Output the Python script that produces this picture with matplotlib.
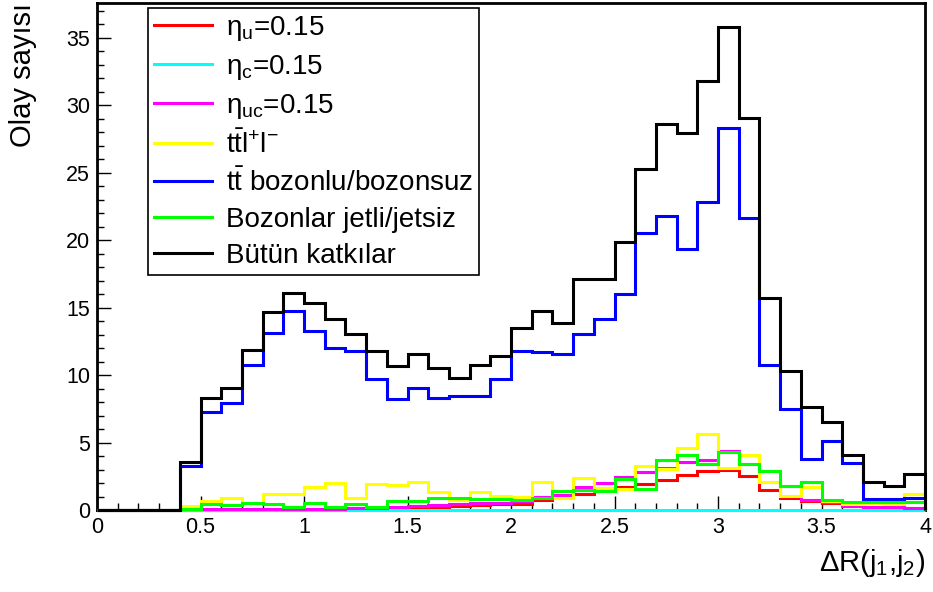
import numpy as np
import matplotlib.pyplot as plt
from matplotlib.lines import Line2D
from matplotlib.ticker import MultipleLocator, FormatStrFormatter

plt.rcParams['font.family'] = ['Liberation Sans', 'DejaVu Sans']
plt.rcParams['mathtext.default'] = 'regular'

#%%----- histogram contents, 40 bins of 0.1 between 0 and 4 ------------------
kenarlar = np.round(np.linspace(0.0, 4.0, 41), 2)
bos = [0.0, 0.0, 0.0, 0.0]   # 0.0-0.4 is empty for every sample

eta_u = bos + [0.03, 0.03, 0.05, 0.05, 0.05, 0.05, 0.08, 0.08, 0.10, 0.10,
               0.15, 0.20, 0.25, 0.30, 0.38, 0.48, 0.45, 0.72, 0.95, 1.15,
               1.55, 1.72, 1.95, 2.25, 2.60, 2.88, 2.95, 2.55, 1.45, 0.90,
               0.65, 0.50, 0.30, 0.22, 0.20, 0.15]
eta_c = bos + [0.02, 0.02, 0.02, 0.02, 0.02, 0.02, 0.02, 0.02, 0.02, 0.02,
               0.02, 0.02, 0.02, 0.02, 0.02, 0.02, 0.03, 0.03, 0.03, 0.03,
               0.03, 0.03, 0.03, 0.03, 0.03, 0.03, 0.03, 0.03, 0.03, 0.03,
               0.03, 0.03, 0.03, 0.03, 0.03, 0.03]
eta_uc = bos + [0.05, 0.05, 0.05, 0.05, 0.05, 0.05, 0.05, 0.05, 0.13, 0.13,
                0.20, 0.28, 0.36, 0.43, 0.50, 0.53, 0.70, 1.00, 1.10, 1.70,
                2.00, 2.43, 2.80, 3.12, 3.54, 3.71, 4.40, 3.40, 2.06, 1.07,
                0.77, 0.60, 0.30, 0.22, 0.22, 0.15]
ttll = bos + [0.26, 0.70, 0.87, 0.53, 1.20, 1.20, 1.74, 2.00, 0.90, 1.94,
              1.82, 2.06, 1.37, 0.75, 1.37, 1.05, 1.00, 2.05, 0.86, 2.40,
              1.65, 1.55, 3.24, 3.05, 4.60, 5.60, 3.08, 4.08, 2.05, 1.07,
              1.69, 0.70, 0.48, 0.50, 0.45, 1.20]
tt = bos + [3.28, 7.27, 7.94, 10.77, 13.12, 14.74, 13.26, 12.00, 11.76, 9.74,
            8.26, 9.05, 8.33, 8.43, 8.48, 9.74, 11.80, 11.75, 11.59, 13.07,
            14.18, 16.03, 20.51, 21.82, 19.35, 22.80, 28.35, 21.65, 10.72, 7.47,
            3.77, 5.10, 3.46, 0.78, 0.78, 0.90]
bozonlar = bos + [0.10, 0.43, 0.36, 0.55, 0.43, 0.25, 0.50, 0.25, 0.45, 0.20,
                  0.65, 0.65, 0.90, 0.88, 0.85, 0.80, 0.75, 0.92, 1.40, 1.50,
                  1.40, 2.30, 1.57, 3.73, 4.08, 3.42, 4.28, 3.40, 2.92, 1.76,
                  2.06, 0.77, 0.62, 0.57, 0.57, 0.57]
butun = bos + [3.55, 8.33, 9.05, 11.88, 14.67, 16.10, 15.36, 14.18, 13.02, 11.76,
               10.68, 11.54, 10.55, 9.81, 10.72, 11.41, 13.51, 14.72, 13.86, 17.15,
               17.15, 19.85, 25.27, 28.60, 27.93, 31.78, 35.80, 29.10, 15.70, 10.28,
               7.60, 6.53, 4.07, 2.05, 1.80, 2.66]

etiketler = [r'$η_{u}$=0.15', r'$η_{c}$=0.15', r'$η_{uc}$=0.15',
             r'$t\bar{t}l^{+}l^{-}$', r'$t\bar{t}$ bozonlu/bozonsuz',
             'Bozonlar jetli/jetsiz', 'Bütün katkılar']
renkler = ['#ff0000', '#00ffff', '#ff00ff', '#ffff00', '#0000ff', '#00ff00', '#000000']

#%%----- figure ---------------------------------------------------------------
fig = plt.figure(figsize=(9.33, 5.92), dpi=100)
ax = fig.add_axes([97/933, 1 - 510/592, 828/933, 507/592])

# draw order: total first, small samples on top
sira = [(butun, 6), (tt, 4), (bozonlar, 5), (ttll, 3), (eta_u, 0), (eta_c, 1), (eta_uc, 2)]
for veri, i in sira:
    ax.stairs(veri, kenarlar, baseline=0, color=renkler[i], lw=2.2,
              zorder=3 + 0.1 * i, clip_on=False)

ax.set_xlim(0, 4)
ax.set_ylim(0, 1.05 * max(butun))

for s in ax.spines.values():
    s.set_linewidth(2)

ax.xaxis.set_major_locator(MultipleLocator(0.5))
ax.xaxis.set_minor_locator(MultipleLocator(0.1))
ax.yaxis.set_major_locator(MultipleLocator(5))
ax.yaxis.set_minor_locator(MultipleLocator(1))
ax.xaxis.set_major_formatter(FormatStrFormatter('%g'))
ax.yaxis.set_major_formatter(FormatStrFormatter('%g'))
ax.tick_params(which='both', direction='in', top=False, right=False, width=1, labelsize=15.5)
ax.tick_params(which='major', length=10, pad=5)
ax.tick_params(which='minor', length=5)

ax.set_ylabel('Olay sayısı', loc='top', fontsize=21)
ax.yaxis.set_label_coords(-0.072, 1.0)
ax.set_xlabel(r'$ΔR(j_{1}{,}j_{2})$', loc='right', fontsize=21)
ax.xaxis.set_label_coords(1.0, -0.072)

cizgiler = [Line2D([], [], color=c, lw=2.2) for c in renkler]
leg = ax.legend(cizgiler, etiketler, loc='upper left',
                bbox_to_anchor=(148/933, 1 - 8/592), bbox_transform=fig.transFigure,
                fontsize=20, frameon=True, fancybox=False, framealpha=1,
                edgecolor='black', handlelength=2.1, handletextpad=0.5,
                labelspacing=0.36, borderpad=0.2, borderaxespad=0)
leg.get_frame().set_linewidth(1.2)
leg.set_zorder(5)

fig.savefig('out.png', dpi=100)
